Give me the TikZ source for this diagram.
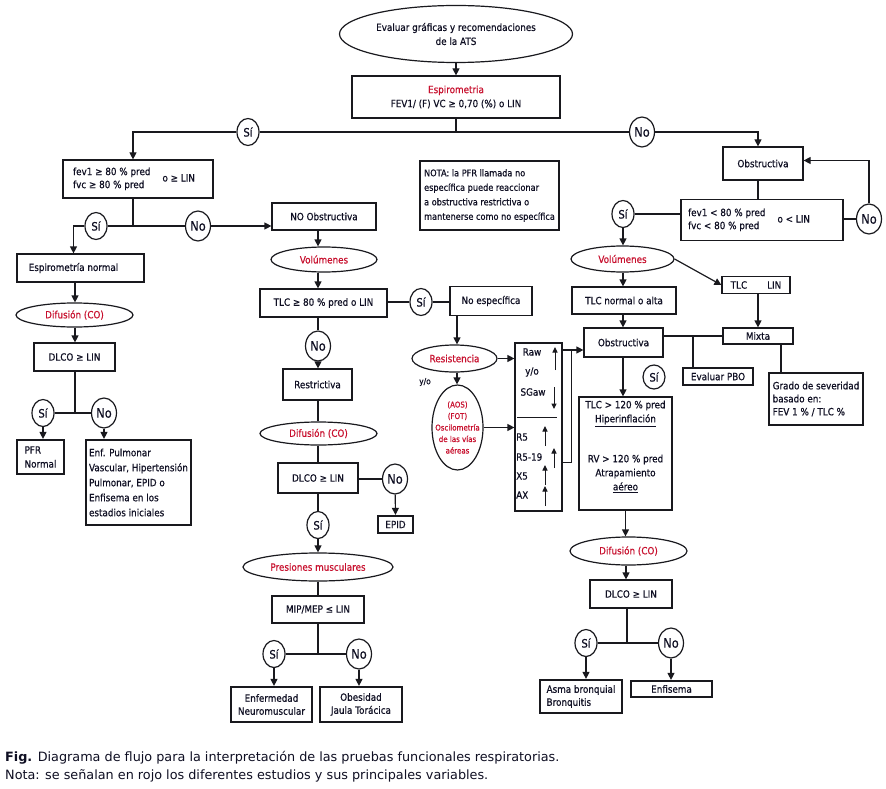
\documentclass[tikz,border=0pt]{standalone}
\usepackage{fontspec}
\setmainfont{DejaVu Sans}[FakeStretch=0.88,FakeBold=0.6]
\newfontfamily\capfont{DejaVu Sans}
\usetikzlibrary{shapes.geometric,arrows.meta,calc}
\definecolor{lc}{RGB}{25,25,30}
\definecolor{tc}{RGB}{15,15,35}
\definecolor{rd}{RGB}{200,16,46}
\begin{document}
\begin{tikzpicture}[x=1pt,y=-1pt,
  font=\fontsize{10}{14}\selectfont,
  sz/.style 2 args={minimum width=#1pt,minimum height=#2pt},
  bx/.style={draw=lc,line width=1.2pt,inner sep=0pt,align=center,text=tc},
  tbx/.style={bx,line width=2.2pt},
  el/.style={ellipse,draw=lc,line width=1.2pt,inner sep=0pt,align=center,text=rd},
  ysi/.style={ellipse,draw=lc,line width=1.2pt,inner sep=0pt,text=tc,sz={22}{27},font=\fontsize{11.5}{12}\selectfont},
  yno/.style={ysi,sz={25}{30},font=\fontsize{13}{14}\selectfont},
  arr/.style={draw=lc,line width=1.2pt,-{Triangle[length=7pt,width=7pt]}},
  sarr/.style={draw=lc,line width=1pt,-{Triangle[length=5.5pt,width=5pt]}},
  ln/.style={draw=lc,line width=1.2pt},
  lt/.style={align=left}
]
\fill[white] (0,0) rectangle (886,789);
\useasboundingbox (0,0) rectangle (886,789);

% column axes
\coordinate (cL) at (75,0);
\coordinate (cM) at (318,0);
\coordinate (cX) at (457,0);
\coordinate (cR2) at (623,0);
\coordinate (cR) at (758,0);

% top
\node[el,text=tc,sz={233}{57}] (top) at (456,34) {Evaluar gráficas y recomendaciones\\de la ATS};
\node[bx,sz={208}{42}] (esp) at (456,97) {\textcolor{rd}{Espirometria}\\FEV1/ (F) VC ≥ 0,70 (\%) o LIN};
\coordinate (s1) at (456,132);
\node[ysi] (si1) at (248,132) {Sí};
\node[yno] (no1) at (642,132) {No};

% NOTA
\node[bx,lt,sz={139}{69},font=\fontsize{9.3}{14.5}\selectfont] (nota) at (489.5,195.5) {NOTA: la PFR llamada no\\específica puede reaccionar\\a obstructiva restrictiva o\\mantenerse como no específica};

% left branch
\node[bx,sz={150}{38}] (fev) at (138,179) {\renewcommand{\arraystretch}{0.93}\begin{tabular}{@{}l@{}}fev1 ≥ 80 \% pred\\fvc ≥ 80 \% pred\end{tabular}\hspace{12pt}o ≥ LIN\hspace*{8pt}};
\node[ysi] (si2) at (96,226) {Sí};
\node[yno] (no2) at (198,226) {No};
\node[bx,sz={127}{28}] (espn) at (80.5,268) {Espirometría normal\hspace*{14pt}};
\node[el,sz={117}{24}] (dif1) at (74.5,315) {Difusión (CO)};
\node[bx,sz={81}{28}] (dlco1) at (74.5,357) {DLCO ≥ LIN};
\node[ysi] (si6) at (43,413) {Sí};
\node[yno] (no6) at (104,413) {No};
\node[tbx,lt,sz={47}{34}] (pfr) at (40.5,457) {PFR\\Normal};
\node[tbx,lt,sz={105}{85},font=\fontsize{10}{15}\selectfont] (enfp) at (138.5,482.5) {Enf. Pulmonar\\Vascular, Hipertensión\\Pulmonar, EPID o\\Enfisema en los\\estadios iniciales};

% middle branch
\node[bx,sz={104}{27}] (noobs) at (324,216.5) {NO Obstructiva};
\node[el,sz={106}{25}] (vol1) at (324,259.5) {Volúmenes};
\node[bx,sz={127}{28}] (tlc1) at (323.5,303) {TLC ≥ 80 \% pred o LIN};
\node[ysi] (si3) at (421,302) {Sí};
\node[bx,sz={82}{29}] (noesp) at (491,301) {No específica};
\node[yno] (no3) at (318,346) {No};
\node[bx,sz={69}{31}] (restr) at (317.5,384.5) {Restrictiva};
\node[el,sz={117}{23}] (dif2) at (318.5,433.5) {Difusión (CO)};
\node[bx,sz={80}{30}] (dlco2) at (318,478) {DLCO ≥ LIN};
\node[yno] (no4) at (395,479) {No};
\node[tbx,sz={35}{17}] (epid) at (395.5,524.5) {EPID};
\node[ysi] (si4) at (318,525) {Sí};
\node[el,sz={150}{28}] (pres) at (318,567) {Presiones musculares};
\node[bx,sz={92}{27}] (mip) at (318,609.5) {MIP/MEP ≤ LIN};
\node[ysi] (si5) at (274,654) {Sí};
\node[yno] (no5) at (359,654) {No};
\node[tbx,sz={81}{35},font=\fontsize{10}{13}\selectfont] (enf) at (271.5,704.5) {Enfermedad\\Neuromuscular};
\node[tbx,sz={82}{35},font=\fontsize{10}{13}\selectfont] (obe) at (361,704.5) {Obesidad\\Jaula Torácica};

% resistance
\node[el,sz={85}{27}] (resis) at (454.5,358.5) {Resistencia};
\node[text=tc,font=\fontsize{8.5}{10}\selectfont] (yo) at (425,382) {y/o};
\node[el,sz={51}{85}] (osc) at (457.5,427.5) {};
\node[text=rd,align=center,font=\fontsize{8}{11.5}\selectfont,inner sep=0pt] (osct) at (osc) {(AOS)\\(FOT)\\Oscilometría\\de las vías\\aéreas};
\node[bx,sz={47}{168}] (raw) at (538.5,427) {};
\node[text=tc] (tRaw) at (532,352) {Raw};
\node[text=tc] (tyo) at (532,372) {y/o};
\node[text=tc] (tSG) at (533,392) {SGaw};
\draw[sarr] (555,370) -- (555,347);
\draw[sarr] (554,387) -- (554,409);
\draw[line width=1pt,draw=lc] (517,417) -- (557,417);
\node[text=tc,anchor=west,inner sep=0pt] (tR5) at (516,437) {R5};
\node[text=tc,anchor=west,inner sep=0pt] (tR519) at (516,457) {R5-19};
\node[text=tc,anchor=west,inner sep=0pt] (tX5) at (516,476) {X5};
\node[text=tc,anchor=west,inner sep=0pt] (tAX) at (516,495) {AX};
\draw[sarr] (545,446) -- (545,426);
\draw[sarr] (554,468) -- (554,448);
\draw[sarr] (545,485) -- (545,465);
\draw[sarr] (545,506) -- (545,486);

% right branch
\node[bx,sz={80}{33}] (obs1) at (763,163.5) {Obstructiva};
\node[bx,sz={162}{41}] (fevr) at (762,220) {\renewcommand{\arraystretch}{0.93}\begin{tabular}{@{}l@{}}fev1 < 80 \% pred\\fvc < 80 \% pred\end{tabular}\hspace{12pt}o < LIN\hspace*{26pt}};
\node[ysi] (si7) at (623,214) {Sí};
\node[yno] (no7) at (869,219) {No};
\node[el,sz={103}{26}] (vol2) at (622.5,259) {Volúmenes};
\node[bx,sz={104}{27}] (tlcn) at (624,300.5) {TLC normal o alta};
\node[bx,sz={68}{17}] (tlcl) at (756,285) {TLC\hspace{20pt}LIN};
\node[bx,sz={70}{16}] (mixta) at (758,336) {Mixta};
\node[bx,sz={79}{29}] (obs2) at (623.5,342.5) {Obstructiva};
\node[bx,sz={70}{17}] (pbo) at (718,376.5) {Evaluar PBO};
\node[bx,lt,sz={94}{52},font=\fontsize{10}{13}\selectfont] (grado) at (816,399) {Grado de severidad\\basado en:\\FEV 1 \% / TLC \%};
\node[ysi,sz={22}{24}] (si8) at (654,377) {Sí};
\node[bx,sz={93}{113}] (tlc120) at (625.5,453.5) {TLC > 120 \% pred\\\underline{Hiperinflación}\\[26pt]RV > 120 \% pred\\Atrapamiento\\\underline{aéreo}\\[2pt]\mbox{}};
\node[el,sz={117}{28}] (dif3) at (628.5,551) {Difusión (CO)};
\node[bx,sz={82}{28}] (dlco3) at (631,594) {DLCO ≥ LIN};
\node[ysi] (si9) at (586,643) {Sí};
\node[yno] (no9) at (671,643) {No};
\node[tbx,lt,sz={82}{33},font=\fontsize{10}{13}\selectfont] (asma) at (581,696.5) {Asma bronquial\\Bronquitis};
\node[tbx,sz={81}{16}] (enfis) at (671.5,689) {Enfisema};

% caption
\node[anchor=west,inner sep=0pt,text=tc,font=\capfont\fontsize{12.8}{15}\selectfont] (cap1) at (5,758) {\textbf{Fig.} Diagrama de flujo para la interpretación de las pruebas funcionales respiratorias.};
\node[anchor=west,inner sep=0pt,text=tc,font=\capfont\fontsize{12.8}{15}\selectfont] (cap2) at (5,776) {Nota: se señalan en rojo los diferentes estudios y sus principales variables.};

% ---- connectors ----
\draw[arr] (top.south) -- (esp.north);
\draw[ln] (esp.south) -- (s1);
\draw[ln] (si1) -- (no1);
\draw[arr] (si1.west) -| ([xshift=-5pt]fev.north);
\draw[arr] (no1.east) -| (obs1.north -| cR);

\draw[ln] ([xshift=-5pt]fev.south) -- ([xshift=-5pt]fev.south |- si2);
\draw[ln] (si2) -- (no2);
\draw[arr] (si2.west) -| ([xshift=-7pt]espn.north);
\draw[arr] (no2.east) -- (no2.east -| noobs.west);
\draw[arr] (espn.south -| cL) -- (dif1.north -| cL);
\draw[arr] (dif1.south -| cL) -- (dlco1.north -| cL);
\draw[ln] (dlco1.south -| cL) -- (cL |- si6);
\draw[ln] (si6) -- (no6);
\draw[arr] (si6) -- (si6 |- pfr.north);
\draw[arr] (no6) -- (no6 |- enfp.north);

\draw[arr] (noobs.south -| cM) -- (vol1.north -| cM);
\draw[arr] (vol1.south -| cM) -- (tlc1.north -| cM);
\draw[ln] (tlc1.east |- si3) -- (si3);
\draw[ln] (si3) -- (si3 -| noesp.west);
\draw[ln] (tlc1.south -| cM) -- (no3);
\draw[arr] (no3) -- (restr.north -| cM);
\draw[ln] (restr.south -| cM) -- (dif2.north -| cM);
\draw[ln] (dif2.south -| cM) -- (dlco2.north -| cM);
\draw[ln] (dlco2.east |- no4) -- (no4);
\draw[arr] (no4) -- (epid.north);
\draw[ln] (dlco2.south -| cM) -- (si4);
\draw[arr] (si4) -- (pres.north -| cM);
\draw[ln] (pres.south -| cM) -- (mip.north -| cM);
\draw[ln] (mip.south) -- (mip.south |- si5);
\draw[ln] (si5) -- (no5);
\draw[arr] (si5) -- (si5 |- enf.north);
\draw[arr] (no5) -- (no5 |- obe.north);

\draw[arr] (noesp.south -| cX) -- (resis.north -| cX);
\draw[arr] (resis.east) -- (resis.east -| raw.west);
\draw[arr] (resis.south -| cX) -- (osc.north -| cX);
\draw[arr] (osc.east) -- (osc.east -| raw.west);
\draw[arr] ([yshift=-7.5pt]obs2.west -| raw.east) -- ([yshift=-7.5pt]obs2.west);
\draw[ln] ([yshift=-120pt]obs2.west -| raw.east) -| ([xshift=-12pt,yshift=-7.5pt]obs2.west);

\draw[ln] (obs1.south -| cR) -- (fevr.north -| cR);
\draw[ln] (si7) -- (si7 -| fevr.west);
\draw[ln] (no7) -- (no7 -| fevr.east);
\draw[arr] (no7) |- ([yshift=3pt]obs1.east);
\draw[arr] (si7) -- (si7 |- vol2.north);
\draw[arr] (vol2.south -| cR2) -- (tlcn.north -| cR2);
\draw[arr] (vol2.east) -- (tlcl.west);
\draw[arr] (tlcl.south -| cR) -- (mixta.north -| cR);
\draw[arr] (tlcn.south -| cR2) -- (obs2.north -| cR2);
\draw[ln] (obs2.east |- mixta) -- (mixta.west);
\draw[ln] ([xshift=-25pt]pbo.north) -- ([xshift=-25pt]pbo.north |- mixta);
\draw[ln] ([xshift=23pt]mixta.south) -- ([xshift=23pt]mixta.south |- grado.north);
\draw[arr] (obs2.south -| cR2) -- (tlc120.north -| cR2);
\draw[arr] (tlc120.south) -- (dif3.north -| tlc120.south);
\draw[arr] ([xshift=-2.5pt]dif3.south) -- ([xshift=-2.5pt]dif3.south |- dlco3.north);
\draw[ln] ([xshift=-4pt]dlco3.south) -- ([xshift=-4pt]dlco3.south |- si9);
\draw[ln] (si9) -- (no9);
\draw[arr] (si9) -- (si9 |- asma.north);
\draw[arr] (no9) -- (no9 |- enfis.north);
\end{tikzpicture}
\end{document}
